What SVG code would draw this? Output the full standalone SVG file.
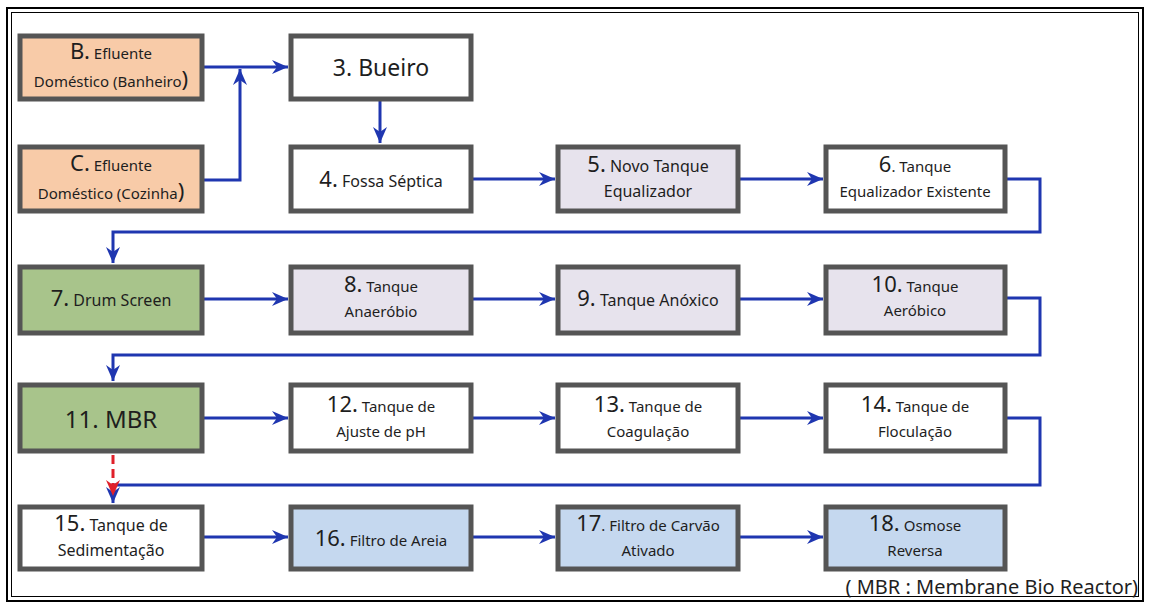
<svg xmlns="http://www.w3.org/2000/svg" width="1151" height="608" viewBox="0 0 1151 608">
<style>
  .box{stroke:#555;stroke-width:5}
  .w{fill:#ffffff}
  .peach{fill:#f8cba8}
  .lav{fill:#e7e3ed}
  .green{fill:#a8c48b}
  .blue{fill:#c5d8ef}
  text{font-family:"Noto Sans","Open Sans",sans-serif;fill:#1e1e1e;text-anchor:middle}
  .big{font-size:22px}
  .sm{font-size:15px}
  .md{font-size:16px}
  .conn{fill:none;stroke:#1f36b0;stroke-width:3}
  .red{fill:none;stroke:#e0202a;stroke-width:3;stroke-dasharray:9 5}
</style>
<defs>
  <marker id="ab" viewBox="0 0 16 16" refX="16" refY="8" markerWidth="16" markerHeight="16" markerUnits="userSpaceOnUse" orient="auto">
    <path d="M0,1 L16,8 L0,15 L5,8 Z" fill="#1f36b0"/>
  </marker>
  <marker id="ar" viewBox="0 0 16 16" refX="16" refY="8" markerWidth="16" markerHeight="16" markerUnits="userSpaceOnUse" orient="auto">
    <path d="M0,1 L16,8 L0,15 L5,8 Z" fill="#e0202a"/>
  </marker>
</defs>
<rect width="1151" height="608" fill="#fff"/>
<g id="frame" fill="none" stroke="#000">
  <rect x="7" y="8" width="1136" height="593" stroke-width="2"/>
  <rect x="11.5" y="12.5" width="1127" height="584" stroke-width="1"/>
</g>
<g id="connectors">
  <path class="conn" d="M203,67 L288,67" marker-end="url(#ab)"/>
  <path class="conn" d="M203,180 L240,180 L240,69" marker-end="url(#ab)"/>
  <path class="conn" d="M380,100 L380,143" marker-end="url(#ab)"/>
  <path class="conn" d="M471,179 L555,179" marker-end="url(#ab)"/>
  <path class="conn" d="M738,179 L823,179" marker-end="url(#ab)"/>
  <path class="conn" d="M1005,179 L1040,179 L1040,232 L113,232 L113,263" marker-end="url(#ab)"/>
  <path class="conn" d="M203,299 L288,299" marker-end="url(#ab)"/>
  <path class="conn" d="M471,299 L555,299" marker-end="url(#ab)"/>
  <path class="conn" d="M738,299 L823,299" marker-end="url(#ab)"/>
  <path class="conn" d="M1005,298 L1040,298 L1040,355 L113,355 L113,381" marker-end="url(#ab)"/>
  <path class="conn" d="M203,418 L288,418" marker-end="url(#ab)"/>
  <path class="conn" d="M471,418 L555,418" marker-end="url(#ab)"/>
  <path class="conn" d="M738,418 L823,418" marker-end="url(#ab)"/>
  <path class="conn" d="M1005,418 L1040,418 L1040,485 L113,485 L113,503" marker-end="url(#ab)"/>
  <path class="red" d="M113,455 L113,496" marker-end="url(#ar)"/>
  <path class="conn" d="M203,537 L288,537" marker-end="url(#ab)"/>
  <path class="conn" d="M471,537 L555,537" marker-end="url(#ab)"/>
  <path class="conn" d="M738,537 L823,537" marker-end="url(#ab)"/>
</g>
<g id="nodeB"><rect class="box peach" x="20" y="36" width="182" height="63"/>
  <text x="111" y="59"><tspan class="big">B.</tspan><tspan class="sm"> Efluente</tspan></text>
  <text x="111" y="87"><tspan class="sm">Doméstico (Banheiro</tspan><tspan class="big">)</tspan></text></g>
<g id="node3"><rect class="box w" x="291" y="36" width="180" height="63"/>
  <text x="381" y="76" style="font-size:23px">3. Bueiro</text></g>
<g id="nodeC"><rect class="box peach" x="20" y="147" width="182" height="64"/>
  <text x="111" y="171"><tspan class="big">C.</tspan><tspan class="sm"> Efluente</tspan></text>
  <text x="111" y="199"><tspan class="sm">Doméstico (Cozinha</tspan><tspan class="big">)</tspan></text></g>
<g id="node4"><rect class="box w" x="291" y="147" width="180" height="64"/>
  <text x="381" y="187"><tspan class="big">4.</tspan><tspan class="md"> Fossa Séptica</tspan></text></g>
<g id="node5"><rect class="box lav" x="558" y="147" width="180" height="64"/>
  <text x="648" y="172"><tspan class="big">5.</tspan><tspan class="md"> Novo Tanque</tspan></text>
  <text x="648" y="197" class="md">Equalizador</text></g>
<g id="node6"><rect class="box w" x="826" y="147" width="179" height="64"/>
  <text x="915" y="172"><tspan class="big">6</tspan><tspan class="sm">. Tanque</tspan></text>
  <text x="915" y="197" class="sm">Equalizador Existente</text></g>
<g id="node7"><rect class="box green" x="20" y="267" width="182" height="66"/>
  <text x="111" y="306"><tspan class="big">7.</tspan><tspan class="md"> Drum  Screen</tspan></text></g>
<g id="node8"><rect class="box lav" x="291" y="267" width="180" height="66"/>
  <text x="381" y="292"><tspan class="big">8.</tspan><tspan class="sm"> Tanque</tspan></text>
  <text x="381" y="317" class="sm">Anaeróbio</text></g>
<g id="node9"><rect class="box lav" x="558" y="267" width="180" height="66"/>
  <text x="648" y="306"><tspan class="big">9.</tspan><tspan class="md"> Tanque Anóxico</tspan></text></g>
<g id="node10"><rect class="box lav" x="826" y="267" width="179" height="66"/>
  <text x="915" y="292"><tspan class="big">10.</tspan><tspan class="sm"> Tanque</tspan></text>
  <text x="915" y="316" class="sm">Aeróbico</text></g>
<g id="node11"><rect class="box green" x="20" y="385" width="182" height="66"/>
  <text x="111" y="428" style="font-size:24px">11. MBR</text></g>
<g id="node12"><rect class="box w" x="291" y="385" width="180" height="66"/>
  <text x="381" y="412"><tspan class="big">12.</tspan><tspan class="sm"> Tanque de</tspan></text>
  <text x="381" y="437" class="sm">Ajuste de pH</text></g>
<g id="node13"><rect class="box w" x="558" y="385" width="180" height="66"/>
  <text x="648" y="412"><tspan class="big">13.</tspan><tspan class="sm"> Tanque de</tspan></text>
  <text x="648" y="437" class="sm">Coagulação</text></g>
<g id="node14"><rect class="box w" x="826" y="385" width="179" height="66"/>
  <text x="915" y="412"><tspan class="big">14.</tspan><tspan class="sm"> Tanque de</tspan></text>
  <text x="915" y="437" class="sm">Floculação</text></g>
<g id="node15"><rect class="box w" x="20" y="507" width="182" height="62"/>
  <text x="111" y="531"><tspan class="big">15.</tspan><tspan class="md"> Tanque de</tspan></text>
  <text x="111" y="556" class="md">Sedimentação</text></g>
<g id="node16"><rect class="box blue" x="291" y="507" width="180" height="62"/>
  <text x="381" y="546"><tspan class="big">16.</tspan><tspan class="sm"> Filtro de Areia</tspan></text></g>
<g id="node17"><rect class="box blue" x="558" y="507" width="180" height="62"/>
  <text x="648" y="531"><tspan class="big">17</tspan><tspan class="sm">. Filtro de Carvão</tspan></text>
  <text x="648" y="556" class="sm">Ativado</text></g>
<g id="node18"><rect class="box blue" x="826" y="507" width="179" height="62"/>
  <text x="915" y="531"><tspan class="big">18.</tspan><tspan class="sm"> Osmose</tspan></text>
  <text x="915" y="556" class="sm">Reversa</text></g>
<text x="1138" y="594" style="font-size:20px;text-anchor:end">( MBR : Membrane Bio Reactor)</text>
</svg>
